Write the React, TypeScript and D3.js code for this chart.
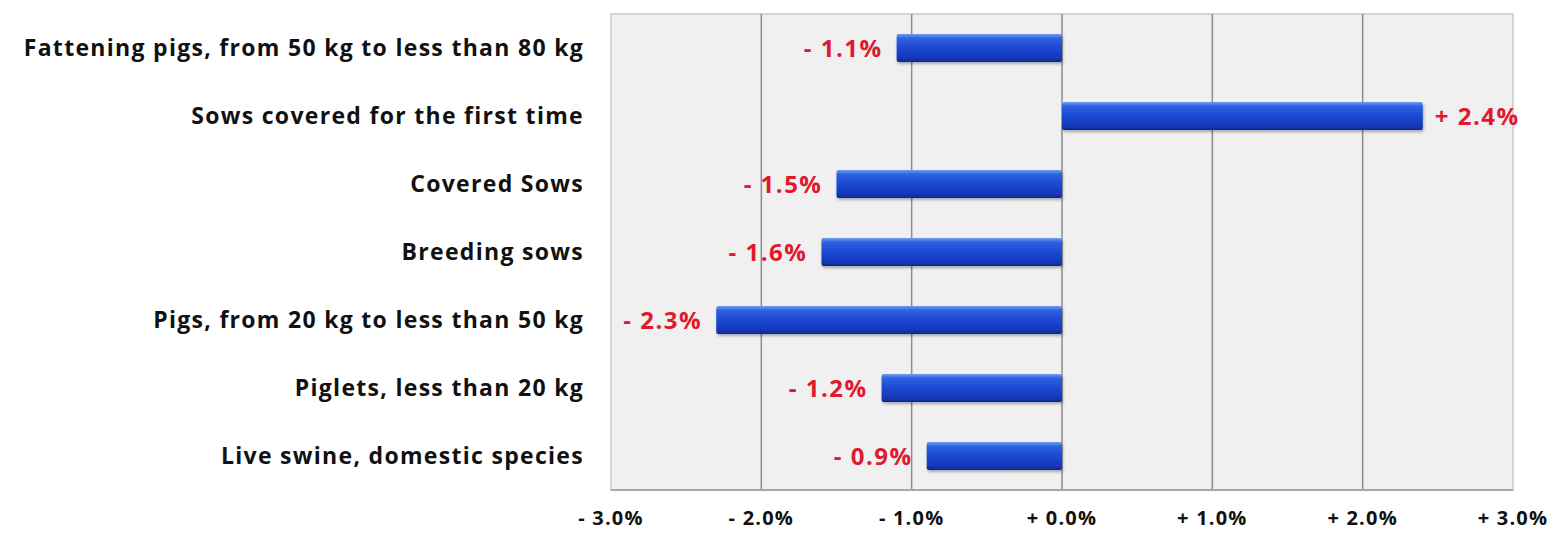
import React, { useEffect } from 'react'
import * as d3 from 'd3'

// categories top to bottom
const categories = [
    'Fattening pigs, from 50 kg to less than 80 kg',
    'Sows covered for the first time',
    'Covered Sows',
    'Breeding sows',
    'Pigs, from 20 kg to less than 50 kg',
    'Piglets, less than 20 kg',
    'Live swine, domestic species',
]
// % change
const changes = [-1.1, 2.4, -1.5, -1.6, -2.3, -1.2, -0.9]
const xTicks = [-3, -2, -1, 0, 1, 2, 3]

const width = 1550
const height = 533
const margin = { top: 14, right: 37, bottom: 43, left: 611 }

const fmt = (v: number) => (v < 0 ? '- ' : '+ ') + Math.abs(v).toFixed(1) + '%'

export default function App() {
    useEffect(() => {
        document.body.style.margin = '0'
    }, [])

    const x = d3.scaleLinear().domain([-3, 3]).range([margin.left, width - margin.right])
    const y = d3
        .scaleBand<string>()
        .domain(categories)
        .range([margin.top, height - margin.bottom])
        .paddingInner(0.59)
        .paddingOuter(0.295)

    const plotTop = margin.top
    const plotBottom = height - margin.bottom
    const font = "'Open Sans', 'Liberation Sans', Arial, sans-serif"

    return (
        <svg width={width} height={height} style={{ display: 'block', background: '#fff' }}>
            <defs>
                <linearGradient id="barGrad" x1="0" y1="0" x2="0" y2="1">
                    <stop offset="0" stopColor="#6f9cf2" />
                    <stop offset="0.15" stopColor="#2f62e0" />
                    <stop offset="0.5" stopColor="#1c48d2" />
                    <stop offset="0.85" stopColor="#1538b8" />
                    <stop offset="1" stopColor="#0d2890" />
                </linearGradient>
                <filter id="shadow" x="-5%" y="-20%" width="110%" height="160%">
                    <feDropShadow dx="1" dy="2" stdDeviation="1.5" floodColor="#000" floodOpacity="0.3" />
                </filter>
            </defs>

            {/* plot background */}
            <rect
                x={margin.left}
                y={plotTop}
                width={x(3) - x(-3)}
                height={plotBottom - plotTop}
                fill="#f0f0f0"
                stroke="#c9c9c9"
                strokeWidth={1.5}
            />
            {/* grid lines */}
            {xTicks.slice(1, -1).map((t) => (
                <line
                    key={t}
                    x1={x(t)}
                    x2={x(t)}
                    y1={plotTop}
                    y2={plotBottom}
                    stroke="#8c8c8c"
                    strokeWidth={1.5}
                />
            ))}
            <line
                x1={margin.left}
                x2={x(3)}
                y1={plotBottom}
                y2={plotBottom}
                stroke="#a8a8a8"
                strokeWidth={2}
            />

            {/* bars */}
            {categories.map((c, i) => {
                const v = changes[i]
                const x0 = x(Math.min(0, v))
                const x1 = x(Math.max(0, v))
                const yy = y(c)!
                return (
                    <g key={c}>
                        <rect
                            x={x0}
                            y={yy}
                            width={x1 - x0}
                            height={y.bandwidth()}
                            rx={2}
                            fill="url(#barGrad)"
                            filter="url(#shadow)"
                        />
                        <text
                            x={v < 0 ? x0 - 14 : x1 + 12}
                            y={yy + y.bandwidth() / 2}
                            dy="0.36em"
                            textAnchor={v < 0 ? 'end' : 'start'}
                            fill="#e01a2e"
                            fontFamily={font}
                            fontWeight="bold"
                            fontSize={24}
                            letterSpacing={1.5}
                        >
                            {fmt(v)}
                        </text>
                        <text
                            x={584}
                            y={yy + y.bandwidth() / 2}
                            dy="0.36em"
                            textAnchor="end"
                            fill="#111"
                            fontFamily={font}
                            fontWeight="bold"
                            fontSize={23}
                            letterSpacing={1.3}
                        >
                            {c}
                        </text>
                    </g>
                )
            })}

            {/* x axis labels */}
            {xTicks.map((t) => (
                <text
                    key={t}
                    x={x(t)}
                    y={518}
                    dy="0.36em"
                    textAnchor="middle"
                    fill="#111"
                    fontFamily={font}
                    fontWeight="bold"
                    fontSize={20}
                    letterSpacing={1.2}
                >
                    {fmt(t)}
                </text>
            ))}
        </svg>
    )
}
